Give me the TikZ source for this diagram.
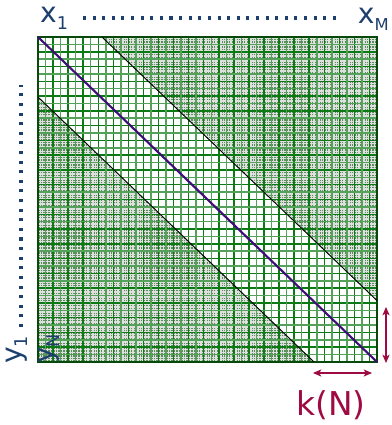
\documentclass[tikz,border=0pt]{standalone}
\usepackage{fontspec}
\setmainfont{DejaVu Sans}
\usetikzlibrary{arrows.meta,calc}
\definecolor{tblue}{HTML}{1C3F6E}
\definecolor{tred}{HTML}{9E0B43}
\definecolor{tgreen}{HTML}{0B7A12}
\definecolor{tindigo}{HTML}{3F0C7A}

\begin{document}
\begin{tikzpicture}[x=0.03cm,y=0.03cm,
  lbl/.style={text=tblue, font=\fontsize{24}{26}\selectfont, inner sep=0pt},
  dotrow/.style={tblue, line width=2.6pt, dash pattern=on 2.6pt off 5.6pt},
  darkline/.style={tgreen, line width=1.3pt},
  lightline/.style={tgreen!70, line width=1.3pt},
  band/.style={black, line width=0.8pt},
  karrow/.style={{Stealth[length=7pt,width=6pt,inset=1.5pt]}-{Stealth[length=7pt,width=6pt,inset=1.5pt]}, tred, line width=1pt}]
\useasboundingbox (0,0) rectangle (391,425);
% corners of the matrix
\coordinate (TL) at (38,388);
\coordinate (TR) at (377,388);
\coordinate (BL) at (38,63);
\coordinate (BR) at (377,63);
% band edges
\coordinate (U1) at (102,388);
\coordinate (U2) at (377,124.4);
\coordinate (L1) at (38,328);
\coordinate (L2) at (314,63);
% shaded corners outside the band
\begin{scope}
  \clip (U1) -- (TR) -- (U2) -- cycle (L1) -- (BL) -- (L2) -- cycle;
  \fill[gray!80!green!90!black] (BL) rectangle (TR);
  \draw[white!75!gray, line width=1.1pt, step=2.511] (BL) grid (TR);
\end{scope}
% grid
\foreach \i in {0,2,...,44} {
  \draw[darkline] ({38+\i*339/45},63) -- ({38+\i*339/45},388);
  \draw[darkline] (38,{63+\i*325/44}) -- (377,{63+\i*325/44});
}
\foreach \i in {1,3,...,43} {
  \draw[lightline] ({38+\i*339/45},63) -- ({38+\i*339/45},388);
  \draw[lightline] (38,{63+\i*325/44}) -- (377,{63+\i*325/44});
}
\draw[darkline] (377,63) -- (377,388);
\draw[tgreen!60!black, line width=1.6pt] (BL) rectangle (TR);
% band and diagonal
\draw[band] (U1) -- (U2);
\draw[band] (L1) -- (L2);
\draw[tindigo, line width=1.8pt] (TL) -- (BR);
% labels
\node[lbl, anchor=base west] (x1) at (40,402) {x\raisebox{-0.45ex}{\fontsize{15}{15}\selectfont 1}};
\node[lbl, anchor=base east] (xM) at (389,401) {x\raisebox{-0.45ex}{\fontsize{14}{14}\selectfont M}};
\coordinate (xd1) at (83,407);
\coordinate (xd2) at (342,407);
\draw[dotrow] (xd1) -- (xd2);
\node[lbl, rotate=90, anchor=base west] (y1) at (21,61) {y\raisebox{-0.45ex}{\fontsize{15}{15}\selectfont 1}};
\coordinate (yd1) at (21,98);
\coordinate (yd2) at (21,340);
\draw[dotrow] (yd1) -- (yd2);
\node[lbl, rotate=90, anchor=base west] (yN) at (53,61) {y\raisebox{-0.45ex}{\fontsize{15}{15}\selectfont N}};
% k(N)
\coordinate (kh1) at (313,52);
\coordinate (kh2) at (372,52);
\draw[karrow] (kh1) -- (kh2);
\coordinate (kv1) at (386,118);
\coordinate (kv2) at (386,62);
\draw[karrow] (kv1) -- (kv2);
\node[text=tred, font=\fontsize{28}{30}\selectfont, inner sep=0pt] (kN) at (331,20) {k(N)};
\end{tikzpicture}
\end{document}
